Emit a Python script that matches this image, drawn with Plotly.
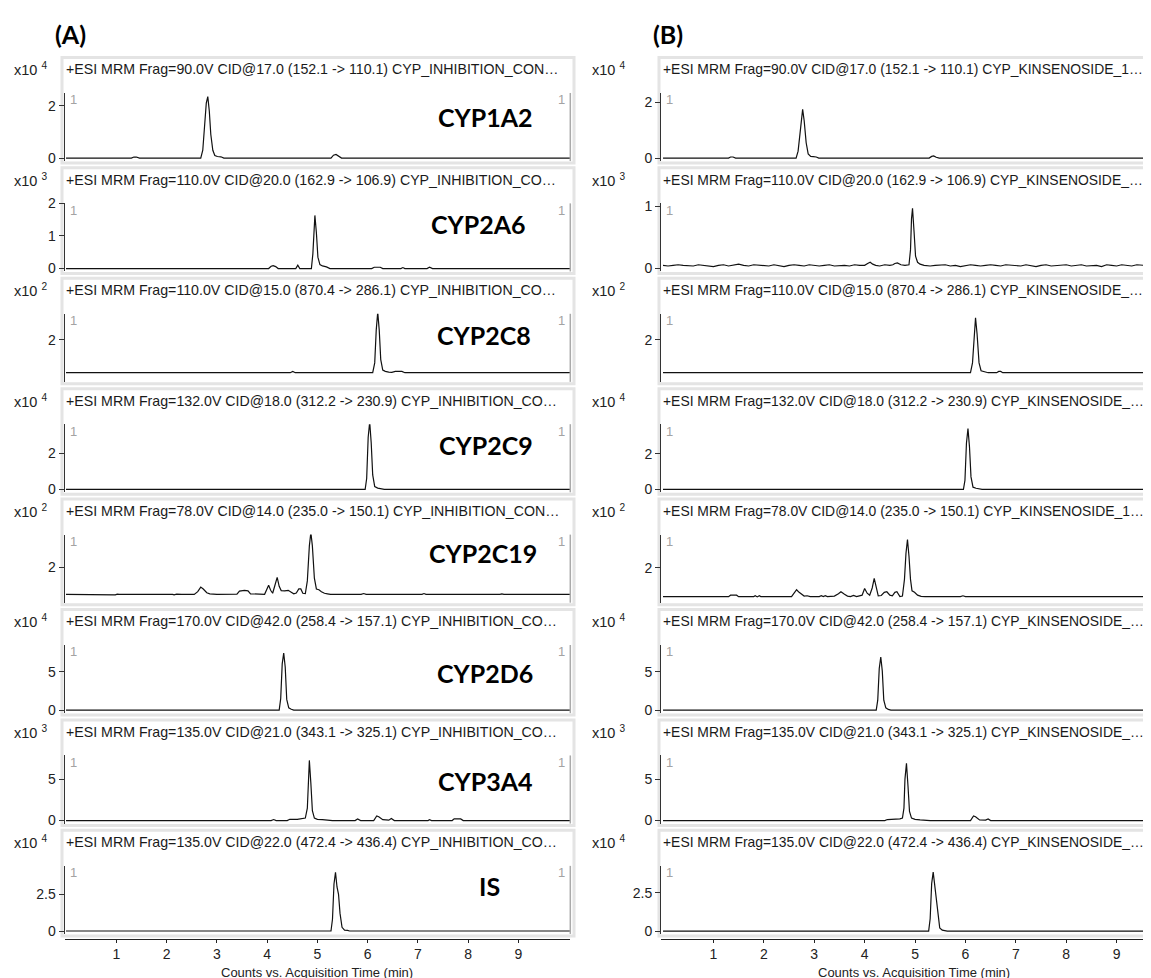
import plotly.graph_objects as go

# ---------------------------------------------------------------- data
# retention time (min) and intensity (in units of the panel's x10^n scale)
t_1a2_a = [0.0, 1.30, 1.35, 1.40, 1.46, 2.68, 2.72, 2.76, 2.79, 2.82, 2.85, 2.88, 2.92, 2.96, 3.01, 3.08, 3.14, 5.27, 5.32, 5.37, 5.42, 5.48, 10.05]
i_1a2_a = [0.0, 0.0, 0.04, 0.04, 0.0, 0.0, 0.3, 1.2, 2.1, 2.35, 1.8, 0.9, 0.3, 0.1, 0.06, 0.05, 0.0, 0.0, 0.11, 0.14, 0.07, 0.0, 0.0]
t_1a2_b = [0.0, 1.30, 1.34, 1.39, 1.44, 2.64, 2.68, 2.71, 2.74, 2.77, 2.80, 2.84, 2.88, 2.93, 2.98, 3.04, 3.09, 5.28, 5.33, 5.37, 5.42, 5.48, 9.9]
i_1a2_b = [0.0, 0.0, 0.04, 0.04, 0.0, 0.0, 0.25, 0.8, 1.45, 1.75, 1.35, 0.55, 0.15, 0.06, 0.05, 0.04, 0.0, 0.0, 0.06, 0.08, 0.03, 0.0, 0.0]

t_2a6_a = [0.0, 4.03, 4.08, 4.12, 4.17, 4.22, 4.57, 4.61, 4.65, 4.88, 4.91, 4.93, 4.95, 4.98, 5.01, 5.05, 5.10, 5.18, 5.25, 6.08, 6.13, 6.25, 6.30, 6.66, 6.70, 6.74, 7.18, 7.23, 7.29, 10.05]
i_2a6_a = [0.0, 0.0, 0.07, 0.09, 0.06, 0.0, 0.0, 0.1, 0.0, 0.0, 0.45, 1.3, 1.63, 1.1, 0.35, 0.12, 0.08, 0.05, 0.0, 0.0, 0.04, 0.04, 0.0, 0.0, 0.03, 0.0, 0.0, 0.04, 0.0, 0.0]
t_2a6_b = [0.0, 0.1, 0.2, 0.3, 0.4, 0.5, 0.6, 0.7, 0.8, 0.9, 1.0, 1.1, 1.2, 1.3, 1.4, 1.5, 1.6, 1.7, 1.8, 1.9,
           2.0, 2.1, 2.2, 2.3, 2.4, 2.5, 2.6, 2.7, 2.8, 2.9, 3.0, 3.1, 3.2, 3.3, 3.4, 3.5, 3.6, 3.7, 3.8, 3.9, 4.0,
           4.06, 4.11, 4.16, 4.22, 4.3, 4.4, 4.5, 4.56, 4.6, 4.65, 4.72, 4.8, 4.88, 4.91, 4.93, 4.95, 4.98, 5.01, 5.05, 5.1, 5.18,
           5.3, 5.4, 5.5, 5.6, 5.7, 5.8, 5.9, 6.0, 6.1, 6.2, 6.3, 6.4, 6.5, 6.6, 6.7, 6.8, 6.9, 7.0, 7.1, 7.2, 7.3, 7.4,
           7.5, 7.6, 7.7, 7.8, 7.9, 8.0, 8.1, 8.2, 8.3, 8.4, 8.5, 8.6, 8.7, 8.8, 8.9, 9.0, 9.1, 9.2, 9.3, 9.4, 9.5, 9.6, 9.7, 9.8, 9.9]
i_2a6_b = [0.05, 0.04, 0.05, 0.06, 0.05, 0.05, 0.04, 0.06, 0.05, 0.05, 0.03, 0.05, 0.06, 0.04, 0.05, 0.07, 0.05, 0.04, 0.06, 0.05,
           0.05, 0.04, 0.06, 0.05, 0.03, 0.05, 0.06, 0.05, 0.04, 0.06, 0.05, 0.04, 0.05, 0.06, 0.04, 0.05, 0.05, 0.04, 0.06, 0.05, 0.05,
           0.08, 0.1, 0.07, 0.05, 0.04, 0.06, 0.05, 0.06, 0.08, 0.09, 0.06, 0.05, 0.06, 0.3, 0.8, 0.97, 0.6, 0.2, 0.1, 0.07, 0.05,
           0.04, 0.05, 0.05, 0.06, 0.04, 0.05, 0.03, 0.05, 0.06, 0.05, 0.04, 0.05, 0.06, 0.05, 0.04, 0.06, 0.05, 0.05, 0.04, 0.06,
           0.05, 0.03, 0.05, 0.06, 0.04, 0.05, 0.05, 0.06, 0.04, 0.05, 0.06, 0.04, 0.05, 0.05, 0.03, 0.06, 0.05, 0.04, 0.06, 0.05,
           0.04, 0.06, 0.05, 0.05, 0.04, 0.06, 0.05]

t_2c8_a = [0.0, 4.46, 4.51, 4.56, 6.10, 6.14, 6.17, 6.20, 6.23, 6.26, 6.30, 6.35, 6.42, 6.48, 6.55, 6.62, 6.68, 6.74, 10.05]
i_2c8_a = [1.0, 1.0, 1.04, 1.0, 1.0, 1.3, 2.3, 2.85, 2.3, 1.4, 1.08, 1.04, 1.02, 1.01, 1.04, 1.05, 1.04, 1.0, 1.0]
t_2c8_b = [0.0, 6.10, 6.14, 6.17, 6.20, 6.23, 6.27, 6.31, 6.38, 6.45, 6.62, 6.66, 6.70, 6.74, 9.9]
i_2c8_b = [1.0, 1.0, 1.3, 2.2, 2.68, 2.2, 1.3, 1.06, 1.03, 1.0, 1.0, 1.04, 1.04, 1.0, 1.0]

t_2c9_a = [0.0, 5.95, 5.98, 6.01, 6.04, 6.07, 6.10, 6.14, 6.20, 6.28, 6.33, 10.05]
i_2c9_a = [0.0, 0.0, 0.6, 2.9, 3.75, 2.6, 0.8, 0.15, 0.07, 0.05, 0.0, 0.0]
t_2c9_b = [0.0, 5.96, 5.99, 6.02, 6.05, 6.08, 6.11, 6.15, 6.21, 6.28, 6.33, 9.9]
i_2c9_b = [0.0, 0.0, 0.5, 2.6, 3.42, 2.4, 0.7, 0.12, 0.06, 0.04, 0.0, 0.0]

t_2c19_a = [0.0, 0.95, 0.98, 1.02, 1.06, 1.30, 1.35, 1.40, 2.12, 2.15, 2.20, 2.26, 2.30, 2.55, 2.62, 2.68, 2.73, 2.80, 2.86,
            3.00, 3.20, 3.30, 3.40, 3.45, 3.55, 3.62, 3.67, 3.95, 4.00, 4.03, 4.07, 4.11, 4.15, 4.20, 4.24, 4.28,
            4.35, 4.42, 4.48, 4.53, 4.58, 4.63, 4.67, 4.71, 4.76, 4.80, 4.84, 4.87, 4.90, 4.94, 4.98, 5.03, 5.08, 5.14, 5.20, 5.26,
            5.87, 5.92, 5.97, 7.08, 7.12, 7.16, 8.63, 8.67, 8.71, 9.29, 9.33, 9.37, 10.05]
i_2c19_a = [1.0, 1.0, 0.98, 1.01, 1.0, 1.0, 1.01, 1.0, 1.0, 0.98, 1.01, 0.99, 1.0, 1.0, 1.1, 1.27, 1.2, 1.06, 1.02,
            1.0, 1.0, 1.02, 1.01, 1.12, 1.15, 1.13, 1.02, 1.0, 1.2, 1.34, 1.15, 1.04, 1.3, 1.63, 1.3, 1.14,
            1.13, 1.15, 1.08, 1.02, 1.05, 1.2, 1.2, 1.04, 1.03, 1.5, 2.8, 3.3, 2.8, 1.6, 1.2, 1.17, 1.1, 1.04, 1.02, 1.0,
            1.0, 1.03, 1.0, 1.0, 1.03, 1.0, 1.0, 1.02, 1.0, 1.0, 1.02, 1.0, 1.0]
t_2c19_b = [0.0, 1.30, 1.34, 1.46, 1.50, 1.80, 1.83, 1.87, 1.91, 1.94, 2.55, 2.60, 2.65, 2.70, 2.74, 2.80, 2.86, 2.92,
            3.10, 3.14, 3.18, 3.22, 3.26, 3.40, 3.48, 3.53, 3.60, 3.66, 3.72, 3.78, 3.84, 3.95, 4.00, 4.05, 4.10, 4.15, 4.19, 4.23, 4.27,
            4.33, 4.39, 4.44, 4.50, 4.55, 4.60, 4.64, 4.70, 4.75, 4.79, 4.82, 4.85, 4.88, 4.91, 4.94, 4.99, 5.05, 5.12, 5.20,
            5.90, 5.95, 6.00, 9.9]
i_2c19_b = [1.0, 1.0, 1.05, 1.05, 1.0, 1.0, 1.03, 0.99, 1.03, 1.0, 1.0, 1.12, 1.24, 1.15, 1.1, 1.02, 1.03, 1.0,
            1.0, 1.03, 1.0, 1.03, 1.0, 1.02, 1.1, 1.17, 1.08, 1.02, 1.0, 1.04, 1.0, 1.05, 1.28, 1.12, 1.05, 1.3, 1.63, 1.3, 1.03,
            1.04, 1.15, 1.17, 1.05, 1.03, 1.15, 1.17, 1.0, 1.02, 1.6, 2.5, 2.98, 2.4, 1.6, 1.2, 1.15, 1.05, 1.01, 1.0,
            1.0, 1.03, 1.0, 1.0]

t_2d6_a = [0.0, 4.24, 4.27, 4.30, 4.33, 4.36, 4.39, 4.43, 4.48, 4.53, 10.05]
i_2d6_a = [0.0, 0.0, 1.5, 6.0, 7.4, 5.6, 1.4, 0.3, 0.12, 0.0, 0.0]
t_2d6_b = [0.0, 4.23, 4.26, 4.29, 4.32, 4.35, 4.38, 4.42, 4.47, 4.52, 9.9]
i_2d6_b = [0.0, 0.0, 1.3, 5.4, 6.9, 5.1, 1.3, 0.3, 0.1, 0.0, 0.0]

t_3a4_a = [0.0, 4.08, 4.13, 4.18, 4.40, 4.45, 4.60, 4.70, 4.76, 4.80, 4.82, 4.84, 4.87, 4.90, 4.94, 5.0, 5.1, 5.3,
           5.75, 5.8, 5.86, 6.12, 6.18, 6.22, 6.3, 6.42, 6.47, 6.53, 7.2, 7.23, 7.27, 7.68, 7.72, 7.85, 7.9, 10.05]
i_3a4_a = [0.0, 0.0, 0.12, 0.0, 0.0, 0.15, 0.15, 0.25, 0.3, 1.5, 5.5, 7.26, 4.5, 1.2, 0.3, 0.15, 0.1, 0.0,
           0.0, 0.18, 0.0, 0.0, 0.55, 0.45, 0.1, 0.05, 0.25, 0.0, 0.0, 0.1, 0.0, 0.0, 0.2, 0.2, 0.0, 0.0]
t_3a4_b = [0.0, 4.08, 4.13, 4.18, 4.40, 4.45, 4.60, 4.70, 4.75, 4.78, 4.80, 4.83, 4.86, 4.89, 4.93, 5.0, 5.1, 5.3,
           6.1, 6.16, 6.2, 6.28, 6.4, 6.45, 6.5, 7.76, 7.8, 7.84, 9.9]
i_3a4_b = [0.0, 0.0, 0.08, 0.0, 0.0, 0.12, 0.12, 0.2, 0.3, 1.5, 5.0, 6.9, 4.2, 1.1, 0.3, 0.15, 0.08, 0.0,
           0.0, 0.55, 0.45, 0.08, 0.05, 0.2, 0.0, 0.0, 0.08, 0.0, 0.0]

t_is_a = [0.0, 5.27, 5.30, 5.33, 5.36, 5.39, 5.42, 5.45, 5.49, 5.54, 5.60, 5.64, 10.05]
i_is_a = [0.0, 0.0, 0.8, 3.2, 4.0, 3.0, 2.5, 1.2, 0.25, 0.06, 0.04, 0.0, 0.0]
t_is_b = [0.0, 5.27, 5.30, 5.33, 5.36, 5.39, 5.42, 5.45, 5.49, 5.54, 5.60, 5.64, 9.9]
i_is_b = [0.0, 0.0, 0.8, 3.1, 3.85, 2.9, 2.3, 1.0, 0.2, 0.06, 0.05, 0.0, 0.0]

ENZYMES = ["CYP1A2", "CYP2A6", "CYP2C8", "CYP2C9", "CYP2C19", "CYP2D6", "CYP3A4", "IS"]
EXPONENTS = [4, 3, 2, 4, 2, 4, 3, 4]
TITLES_A = [
    "+ESI MRM Frag=90.0V CID@17.0 (152.1 -> 110.1) CYP_INHIBITION_CON\u2026",
    "+ESI MRM Frag=110.0V CID@20.0 (162.9 -> 106.9) CYP_INHIBITION_CO\u2026",
    "+ESI MRM Frag=110.0V CID@15.0 (870.4 -> 286.1) CYP_INHIBITION_CO\u2026",
    "+ESI MRM Frag=132.0V CID@18.0 (312.2 -> 230.9) CYP_INHIBITION_CO\u2026",
    "+ESI MRM Frag=78.0V CID@14.0 (235.0 -> 150.1) CYP_INHIBITION_CON\u2026",
    "+ESI MRM Frag=170.0V CID@42.0 (258.4 -> 157.1) CYP_INHIBITION_CO\u2026",
    "+ESI MRM Frag=135.0V CID@21.0 (343.1 -> 325.1) CYP_INHIBITION_CO\u2026",
    "+ESI MRM Frag=135.0V CID@22.0 (472.4 -> 436.4) CYP_INHIBITION_CO\u2026",
]
TITLES_B = [
    "+ESI MRM Frag=90.0V CID@17.0 (152.1 -> 110.1) CYP_KINSENOSIDE_1\u2026",
    "+ESI MRM Frag=110.0V CID@20.0 (162.9 -> 106.9) CYP_KINSENOSIDE_\u2026",
    "+ESI MRM Frag=110.0V CID@15.0 (870.4 -> 286.1) CYP_KINSENOSIDE_\u2026",
    "+ESI MRM Frag=132.0V CID@18.0 (312.2 -> 230.9) CYP_KINSENOSIDE_\u2026",
    "+ESI MRM Frag=78.0V CID@14.0 (235.0 -> 150.1) CYP_KINSENOSIDE_1\u2026",
    "+ESI MRM Frag=170.0V CID@42.0 (258.4 -> 157.1) CYP_KINSENOSIDE_\u2026",
    "+ESI MRM Frag=135.0V CID@21.0 (343.1 -> 325.1) CYP_KINSENOSIDE_\u2026",
    "+ESI MRM Frag=135.0V CID@22.0 (472.4 -> 436.4) CYP_KINSENOSIDE_\u2026",
]
X_TICKS = [1, 2, 3, 4, 5, 6, 7, 8, 9]
Y_TICKS_A = [[0, 2], [0, 1, 2], [2], [0, 2], [2], [0, 5], [0, 5], [0, 2.5]]
Y_TICKS_B = [[0, 2], [0, 1], [2], [0, 2], [2], [0, 5], [0, 5], [0, 2.5]]
X_TITLE = "Counts vs. Acquisition Time (min)"

SERIES_A = [(t_1a2_a, i_1a2_a), (t_2a6_a, i_2a6_a), (t_2c8_a, i_2c8_a), (t_2c9_a, i_2c9_a),
            (t_2c19_a, i_2c19_a), (t_2d6_a, i_2d6_a), (t_3a4_a, i_3a4_a), (t_is_a, i_is_a)]
SERIES_B = [(t_1a2_b, i_1a2_b), (t_2a6_b, i_2a6_b), (t_2c8_b, i_2c8_b), (t_2c9_b, i_2c9_b),
            (t_2c19_b, i_2c19_b), (t_2d6_b, i_2d6_b), (t_3a4_b, i_3a4_b), (t_is_b, i_is_b)]

# ---------------------------------------------------------------- layout / style
W, H = 1151, 978
FONT = "Liberation Sans"
BOLD = "Lato"
ROW_T = [54 + 111.9 * k for k in range(8)]          # title line (px from top)
PLOT_TOP, PLOT_BOT = 24, 93                           # plot area offsets from title line
FRAME_TOP, FRAME_BOT = -12, 95
YR_A = [(-0.113, 2.49), (-0.09, 2.0), (0.72, 2.80), (-0.165, 3.63), (0.69, 3.22), (-0.38, 8.45), (-0.36, 7.86), (-0.2, 4.44)]
YR_B = [(-0.106, 2.34), (-0.048, 1.05), (0.72, 2.80), (-0.167, 3.67), (0.79, 3.15), (-0.38, 8.45), (-0.36, 7.86), (-0.19, 4.26)]
LABEL_DY = [48, 45, 45, 45, 43, 52, 50, 44]
LABEL_X = [527, 520, 525, 527, 531, 527, 527, 481]

COLS = [
    dict(plot=(56.5, 562.3), xr=[-0.03, 10.03], frame=(54, 566), x10=41, title=56, series=SERIES_A,
         titles=TITLES_A, yr=YR_A, yt=Y_TICKS_A, panel="(A)", panel_x=45, right_edge=True, tsize=14.2),
    dict(plot=(653, 1151), xr=[-0.04, 9.84], frame=(651, 1163), x10=619, title=653, series=SERIES_B,
         titles=TITLES_B, yr=YR_B, yt=Y_TICKS_B, panel="(B)", panel_x=643, right_edge=False, tsize=13.9),
]
AXIS_LINE_Y = 935
AXIS_TITLE_Y = 969.5


def px(x):
    return x / W


def py(y):
    return 1 - y / H


fig = go.Figure()
layout = dict(width=W, height=H, margin=dict(l=0, r=0, t=0, b=0), showlegend=False,
              paper_bgcolor="white", plot_bgcolor="white")
shapes, annotations = [], []

for c, col in enumerate(COLS):
    for r in range(8):
        n = c * 8 + r + 1
        T = ROW_T[r]
        tx, iy = col["series"][r]
        fig.add_trace(go.Scatter(x=tx, y=iy, mode="lines", xaxis=f"x{n}", yaxis=f"y{n}",
                                 line=dict(color="#111111", width=1.2), hoverinfo="skip"))
        xa = dict(domain=[px(col["plot"][0]), px(col["plot"][1])], range=col["xr"], anchor=f"y{n}",
                  showgrid=False, zeroline=False)
        if r == 7:
            xa.update(anchor="free", position=py(AXIS_LINE_Y), showline=True, linecolor="#222222", linewidth=1,
                      ticks="outside", ticklen=3, tickcolor="#222222", tickvals=X_TICKS,
                      tickfont=dict(family=FONT, size=14, color="#222222"))
        else:
            xa.update(visible=False)
        layout[f"xaxis{n}"] = xa
        yt = col["yt"][r]
        layout[f"yaxis{n}"] = dict(domain=[py(T + PLOT_BOT), py(T + PLOT_TOP)], range=list(col["yr"][r]),
                                   anchor=f"x{n}", showgrid=False, zeroline=False, showline=True,
                                   linecolor="#333333", linewidth=1, ticks="outside", ticklen=5,
                                   tickcolor="#333333", tickvals=yt, ticktext=[f"{v:g}" for v in yt],
                                   tickfont=dict(family=FONT, size=14, color="#222222"))
        # panel frame
        shapes.append(dict(type="rect", xref="paper", yref="paper", layer="below",
                           x0=px(col["frame"][0]), x1=px(col["frame"][1]),
                           y0=py(T + FRAME_BOT), y1=py(T + FRAME_TOP),
                           line=dict(color="#e4e4e4", width=3), fillcolor="rgba(0,0,0,0)"))
        if col["right_edge"]:
            shapes.append(dict(type="line", xref="paper", yref="paper",
                               x0=px(col["plot"][1]), x1=px(col["plot"][1]),
                               y0=py(T + PLOT_BOT), y1=py(T + PLOT_TOP),
                               line=dict(color="#aaaaaa", width=1.5)))
            annotations.append(dict(text="1", xref="paper", yref="paper", x=px(col["plot"][1] - 3), y=py(T + 31),
                                    xanchor="right", yanchor="middle", showarrow=False,
                                    font=dict(family=FONT, size=13, color="#a3a3a3")))
        annotations.append(dict(text="1", xref="paper", yref="paper", x=px(col["plot"][0] + 3), y=py(T + 31),
                                xanchor="left", yanchor="middle", showarrow=False,
                                font=dict(family=FONT, size=13, color="#a3a3a3")))
        annotations.append(dict(text=f"x10 <sup>{EXPONENTS[r]}</sup>", xref="paper", yref="paper",
                                x=px(col["x10"]), y=py(T), xanchor="right", yanchor="middle", showarrow=False,
                                font=dict(family=FONT, size=14.5, color="#222222")))
        annotations.append(dict(text=col["titles"][r], xref="paper", yref="paper",
                                x=px(col["title"]), y=py(T), xanchor="left", yanchor="middle", showarrow=False,
                                font=dict(family=FONT, size=col["tsize"], color="#1a1a1a")))
        if c == 0:
            annotations.append(dict(text=f"<b>{ENZYMES[r]}</b>", xref="paper", yref="paper",
                                    x=px(LABEL_X[r]), y=py(T + LABEL_DY[r]),
                                    xanchor="center" if ENZYMES[r] == "IS" else "right", yanchor="middle",
                                    showarrow=False, font=dict(family=BOLD, size=25, color="black")))
    annotations.append(dict(text=f"<b>{col['panel']}</b>", xref="paper", yref="paper",
                            x=px(col["panel_x"]), y=py(18), xanchor="left", yanchor="middle", showarrow=False,
                            font=dict(family=BOLD, size=25, color="black")))
    annotations.append(dict(text=X_TITLE, xref="paper", yref="paper",
                            x=px((col["plot"][0] + min(col["plot"][1], 1159)) / 2 + (0 if c == 0 else 4)),
                            y=py(AXIS_TITLE_Y), xanchor="center", yanchor="middle", showarrow=False,
                            font=dict(family=FONT, size=13, color="#222222")))

layout["shapes"] = shapes
layout["annotations"] = annotations
fig.update_layout(**layout)
fig.write_html("out.html")
